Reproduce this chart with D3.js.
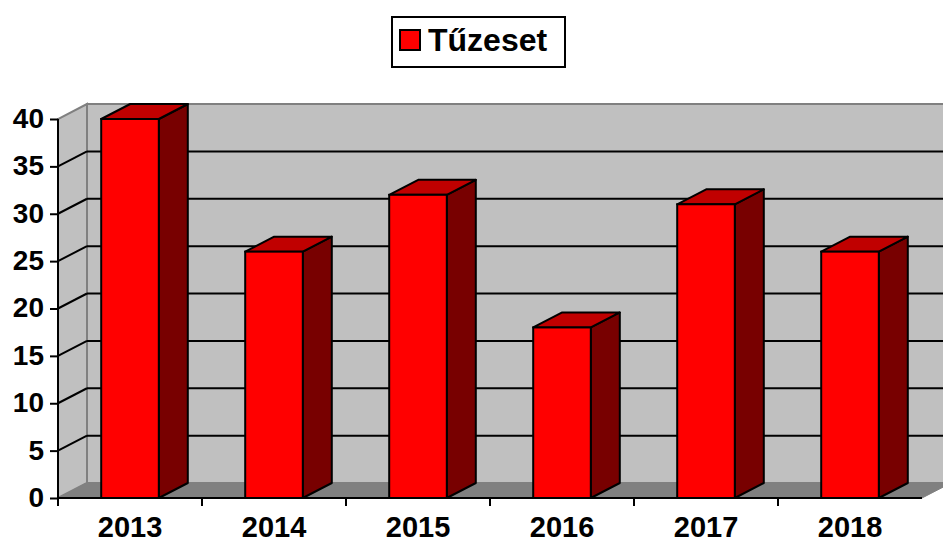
<!DOCTYPE html>
<html>
<head>
<meta charset="utf-8">
<script src="https://cdn.jsdelivr.net/npm/d3@7"></script>
<style>
  body { margin: 0; background: #fff; }
  svg { display: block; font-family: "Liberation Sans", Arial, sans-serif; font-weight: bold; }
</style>
</head>
<body>
<div class="chart"></div>
<script>
// data
const years = ['2013', '2014', '2015', '2016', '2017', '2018']
const fires = [40, 26, 32, 18, 31, 26]
const yTicks = [0, 5, 10, 15, 20, 25, 30, 35, 40]
const seriesName = 'Tűzeset'

const W = 943, H = 543
// depth offset of the 3d box
const dx = 29, dy = -15

svg = d3.select('.chart').append('svg').attr('width', W).attr('height', H)

x = d3.scaleBand().domain(years).range([58, 922]).paddingInner(0.6).paddingOuter(0.3)
y = d3.scaleLinear().domain([0, 40]).range([498, 119])

const x0 = 58, x1 = 922

// back wall
svg.append('rect')
    .attr('x', x0 + dx).attr('y', y(40) + dy)
    .attr('width', x1 - x0).attr('height', y(0) - y(40))
    .attr('fill', '#c0c0c0').attr('stroke', '#808080').attr('stroke-width', 2)

// side wall
svg.append('polygon')
    .attr('points', [[x0, y(0)], [x0, y(40)], [x0 + dx, y(40) + dy], [x0 + dx, y(0) + dy]].join(' '))
    .attr('fill', '#c0c0c0').attr('stroke', '#808080').attr('stroke-width', 2)

// floor
svg.append('polygon')
    .attr('points', [[x0, y(0)], [x0 + dx, y(0) + dy], [x1 + dx, y(0) + dy], [x1, y(0)]].join(' '))
    .attr('fill', '#808080').attr('stroke', '#808080').attr('stroke-width', 1)

// gridlines
const inner = yTicks.filter(d => d > 0 && d < 40)
svg.selectAll('.grid-back').data(inner).enter().append('line')
    .attr('x1', x0 + dx).attr('x2', x1 + dx)
    .attr('y1', d => y(d) + dy).attr('y2', d => y(d) + dy)
    .attr('stroke', 'black').attr('stroke-width', 2)
svg.selectAll('.grid-side').data(inner).enter().append('line')
    .attr('x1', x0).attr('x2', x0 + dx)
    .attr('y1', d => y(d)).attr('y2', d => y(d) + dy)
    .attr('stroke', 'black').attr('stroke-width', 2)

// bars
const bw = x.bandwidth()
bars = svg.selectAll('.bar').data(years).enter().append('g')
bars.append('polygon') // side
    .attr('points', (d, i) => {
        let r = x(d) + bw, t = y(fires[i])
        return [[r, t], [r + dx, t + dy], [r + dx, y(0) + dy], [r, y(0)]].join(' ')
    })
    .attr('fill', '#780000').attr('stroke', 'black').attr('stroke-width', 2).attr('stroke-linejoin', 'round')
bars.append('polygon') // top
    .attr('points', (d, i) => {
        let l = x(d), t = y(fires[i])
        return [[l, t], [l + dx, t + dy], [l + bw + dx, t + dy], [l + bw, t]].join(' ')
    })
    .attr('fill', '#c00000').attr('stroke', 'black').attr('stroke-width', 2).attr('stroke-linejoin', 'round')
bars.append('rect') // front
    .attr('x', d => x(d)).attr('width', bw)
    .attr('y', (d, i) => y(fires[i])).attr('height', (d, i) => y(0) - y(fires[i]))
    .attr('fill', '#ff0000').attr('stroke', 'black').attr('stroke-width', 2)

// axes
yAxis = svg.append('g').attr('transform', `translate(${x0},0)`)
    .call(d3.axisLeft(y).tickValues(yTicks).tickSize(8).tickPadding(6))
yAxis.select('.domain').remove()
yAxis.selectAll('line').attr('stroke', 'black').attr('stroke-width', 2)
yAxis.selectAll('text').attr('font-size', 28).attr('font-weight', 'bold').attr('fill', 'black')
    .attr('font-family', '"Liberation Sans", Arial, sans-serif').attr('dy', '0.3em')

svg.append('line').attr('x1', x0).attr('x2', x0).attr('y1', y(40)).attr('y2', y(0) + 8)
    .attr('stroke', 'black').attr('stroke-width', 2)
svg.append('line').attr('x1', x0).attr('x2', x1).attr('y1', y(0)).attr('y2', y(0))
    .attr('stroke', 'black').attr('stroke-width', 2)

// category boundary ticks
svg.selectAll('.xtick').data(years.slice(1)).enter().append('line')
    .attr('x1', d => x(d) - x.step() * 0.3).attr('x2', d => x(d) - x.step() * 0.3)
    .attr('y1', y(0)).attr('y2', y(0) + 8)
    .attr('stroke', 'black').attr('stroke-width', 2)

xAxis = svg.append('g').attr('transform', `translate(0,${y(0)})`)
    .call(d3.axisBottom(x).tickSize(0).tickPadding(0))
xAxis.select('.domain').remove()
xAxis.selectAll('text').attr('font-size', 29).attr('font-weight', 'bold').attr('fill', 'black')
    .attr('font-family', '"Liberation Sans", Arial, sans-serif').attr('dy', null).attr('y', 39)

// legend
legend = svg.append('g')
legend.append('rect').attr('x', 392).attr('y', 17).attr('width', 173).attr('height', 50)
    .attr('fill', 'white').attr('stroke', 'black').attr('stroke-width', 2)
legend.append('rect').attr('x', 400).attr('y', 30).attr('width', 20).attr('height', 20)
    .attr('fill', '#ff0000').attr('stroke', 'black').attr('stroke-width', 2)
legend.append('text').text(seriesName).attr('x', 428).attr('y', 51)
    .attr('font-size', 32).attr('fill', 'black')
</script>
</body>
</html>
